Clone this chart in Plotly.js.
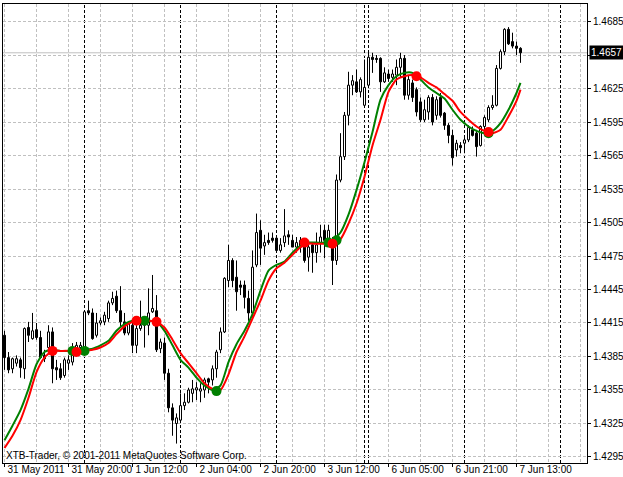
<!DOCTYPE html>
<html><head><meta charset="utf-8">
<script src="https://cdn.plot.ly/plotly-3.0.1.min.js"></script>
<style>html,body{margin:0;padding:0;background:#fff}#chart{width:623px;height:477px}</style>
</head><body><div id="chart"></div>
<script>
// EURUSD-like H1 bars, 31 May 2011 04:00 .. 7 Jun 2011 14:00 (bar index 0..129)
const openP = [1.4404,1.4384,1.4374,1.4379,1.4382,1.4374,1.4411,1.4401,1.4409,1.4402,
1.4386,1.4393,1.4407,1.4375,1.4374,1.4368,1.4379,1.4380,1.4389,1.4393,
1.4388,1.4426,1.4424,1.4404,1.4415,1.4416,1.4419,1.4433,1.4439,1.4426,
1.4416,1.4406,1.4413,1.4395,1.4410,1.4416,1.4413,1.4425,1.4426,1.4392,
1.4397,1.4370,1.4339,1.4325,1.4328,1.4341,1.4344,1.4352,1.4355,1.4354,
1.4355,1.4365,1.4364,1.4374,1.4391,1.4407,1.4453,1.4471,1.4456,1.4449,
1.4449,1.4437,1.4424,1.4467,1.4498,1.4484,1.4489,1.4491,1.4491,1.4480,
1.4487,1.4494,1.4489,1.4483,1.4483,1.4487,1.4474,1.4485,1.4478,1.4487,
1.4498,1.4487,1.4482,1.4471,1.4543,1.4564,1.4601,1.4628,1.4631,1.4622,
1.4610,1.4628,1.4653,1.4652,1.4652,1.4631,1.4638,1.4635,1.4637,1.4644,
1.4652,1.4619,1.4630,1.4624,1.4613,1.4597,1.4604,1.4617,1.4601,1.4617,
1.4603,1.4592,1.4583,1.4570,1.4574,1.4576,1.4579,1.4588,1.4585,1.4574,
1.4591,1.4597,1.4608,1.4610,1.4643,1.4658,1.4678,1.4667,1.4663,1.4661];
const highP = [1.4408,1.4389,1.4384,1.4386,1.4384,1.4411,1.4416,1.4424,1.4415,1.4408,
1.4391,1.4413,1.4411,1.4382,1.4379,1.4384,1.4386,1.4397,1.4398,1.4398,
1.4426,1.4435,1.4428,1.4424,1.4420,1.4425,1.4435,1.4443,1.4444,1.4448,
1.4424,1.4416,1.4417,1.4417,1.4435,1.4420,1.4446,1.4458,1.4440,1.4401,
1.4402,1.4374,1.4343,1.4334,1.4352,1.4352,1.4357,1.4364,1.4362,1.4361,
1.4366,1.4366,1.4377,1.4391,1.4411,1.4456,1.4485,1.4473,1.4471,1.4453,
1.4453,1.4444,1.4480,1.4513,1.4507,1.4494,1.4496,1.4496,1.4492,1.4491,
1.4517,1.4498,1.4494,1.4492,1.4492,1.4489,1.4487,1.4487,1.4496,1.4503,
1.4503,1.4503,1.4492,1.4548,1.4585,1.4604,1.4640,1.4637,1.4642,1.4635,
1.4651,1.4658,1.4657,1.4655,1.4653,1.4644,1.4642,1.4642,1.4651,1.4657,
1.4655,1.4637,1.4633,1.4626,1.4617,1.4615,1.4619,1.4620,1.4618,1.4621,
1.4604,1.4594,1.4588,1.4579,1.4577,1.4582,1.4592,1.4591,1.4588,1.4592,
1.4601,1.4610,1.4619,1.4646,1.4660,1.4679,1.4680,1.4675,1.4667,1.4662];
const lowP = [1.4373,1.4370,1.4370,1.4376,1.4366,1.4365,1.4398,1.4400,1.4400,1.4383,
1.4380,1.4391,1.4361,1.4364,1.4364,1.4366,1.4373,1.4377,1.4388,1.4388,
1.4386,1.4422,1.4400,1.4402,1.4413,1.4413,1.4416,1.4431,1.4424,1.4411,
1.4404,1.4404,1.4388,1.4388,1.4408,1.4393,1.4404,1.4424,1.4389,1.4388,
1.4364,1.4335,1.4314,1.4307,1.4326,1.4337,1.4343,1.4344,1.4346,1.4344,
1.4348,1.4352,1.4359,1.4366,1.4388,1.4406,1.4447,1.4447,1.4426,1.4440,
1.4428,1.4417,1.4420,1.4465,1.4467,1.4476,1.4485,1.4487,1.4478,1.4478,
1.4483,1.4485,1.4483,1.4478,1.4478,1.4469,1.4461,1.4460,1.4469,1.4478,
1.4473,1.4483,1.4449,1.4467,1.4541,1.4561,1.4592,1.4619,1.4621,1.4617,
1.4608,1.4626,1.4639,1.4648,1.4622,1.4630,1.4631,1.4631,1.4628,1.4635,
1.4615,1.4615,1.4613,1.4600,1.4595,1.4595,1.4597,1.4592,1.4597,1.4599,
1.4588,1.4576,1.4556,1.4564,1.4567,1.4567,1.4577,1.4582,1.4564,1.4573,
1.4588,1.4595,1.4606,1.4609,1.4642,1.4655,1.4664,1.4661,1.4655,1.4648];
const closeP = [1.4384,1.4373,1.4383,1.4383,1.4375,1.4410,1.4404,1.4408,1.4402,1.4384,
1.4383,1.4407,1.4374,1.4373,1.4366,1.4382,1.4382,1.4388,1.4395,1.4395,
1.4425,1.4424,1.4401,1.4415,1.4417,1.4422,1.4433,1.4437,1.4426,1.4416,
1.4406,1.4415,1.4395,1.4410,1.4413,1.4413,1.4424,1.4428,1.4391,1.4398,
1.4370,1.4339,1.4328,1.4330,1.4341,1.4344,1.4355,1.4356,1.4357,1.4356,
1.4364,1.4362,1.4374,1.4389,1.4407,1.4455,1.4471,1.4453,1.4443,1.4447,
1.4438,1.4424,1.4465,1.4496,1.4482,1.4487,1.4487,1.4489,1.4480,1.4485,
1.4493,1.4492,1.4483,1.4487,1.4489,1.4471,1.4483,1.4478,1.4485,1.4492,
1.4489,1.4498,1.4471,1.4543,1.4564,1.4601,1.4628,1.4632,1.4622,1.4633,
1.4626,1.4653,1.4651,1.4651,1.4631,1.4639,1.4634,1.4638,1.4644,1.4652,
1.4619,1.4633,1.4617,1.4604,1.4597,1.4606,1.4617,1.4595,1.4615,1.4601,
1.4592,1.4583,1.4563,1.4576,1.4572,1.4579,1.4590,1.4583,1.4573,1.4591,
1.4599,1.4608,1.4610,1.4643,1.4658,1.4678,1.4665,1.4663,1.4661,1.4657];

// indicator lines, read every second bar (+ last bar)
const lineBars = [0,2,4,6,8,10,12,14,16,18,20,22,24,26,28,30,32,34,36,38,40,42,44,46,48,50,52,54,56,58,60,62,64,66,68,70,72,74,76,78,80,82,84,86,88,90,92,94,96,98,100,102,104,106,108,110,112,114,116,118,120,122,124,126,128,129];
const fastLine = [1.4310,1.4323,1.4337,1.4356,1.4378,1.4389,1.4391,1.4390,1.4390,1.4390,
1.4391,1.4392,1.4395,1.4399,1.4408,1.4414,1.4417,1.4417,1.4417,1.4416,
1.4408,1.4395,1.4382,1.4375,1.4366,1.4359,1.4355,1.4359,1.4380,1.4396,
1.4408,1.4423,1.4444,1.4462,1.4467,1.4470,1.4478,1.4484,1.4487,1.4487,
1.4487,1.4489,1.4496,1.4512,1.4534,1.4559,1.4586,1.4615,1.4628,1.4636,
1.4639,1.4639,1.4633,1.4626,1.4621,1.4616,1.4606,1.4597,1.4591,1.4587,
1.4585,1.4587,1.4594,1.4606,1.4621,1.4630];
const slowLine = [1.4303,1.4314,1.4328,1.4348,1.4371,1.4384,1.4390,1.4390,1.4390,1.4389,
1.4390,1.4391,1.4393,1.4397,1.4405,1.4412,1.4416,1.4417,1.4417,1.4416,
1.4411,1.4400,1.4388,1.4379,1.4370,1.4361,1.4356,1.4355,1.4369,1.4389,
1.4403,1.4419,1.4435,1.4453,1.4464,1.4469,1.4476,1.4483,1.4486,1.4486,
1.4486,1.4486,1.4490,1.4504,1.4522,1.4546,1.4574,1.4597,1.4622,1.4633,
1.4636,1.4637,1.4635,1.4630,1.4626,1.4620,1.4614,1.4604,1.4597,1.4591,
1.4587,1.4585,1.4588,1.4600,1.4614,1.4624];

// crossing signals
const redDotBars = [12,18,33,38,75,82,103,121];
const redDotVals = [1.4390,1.4389,1.4417,1.4416,1.4487,1.4486,1.4636,1.4586];
const greenDotBars = [17,20,35,53,81,83,121];
const greenDotVals = [1.4390,1.4390,1.4417,1.4354,1.4487,1.4489,1.4585];

// axis labels
const tickBars = [0,16,32,48,64,80,96,112,128];
const tickLabels = ['31 May 2011','31 May 20:00','1 Jun 12:00','2 Jun 04:00','2 Jun 20:00','3 Jun 12:00','6 Jun 05:00','6 Jun 21:00','7 Jun 13:00'];
const dayStartBars = [20,44,68,90,91,115,139];
const yTicks = [1.4295,1.4325,1.4355,1.4385,1.4415,1.4445,1.4475,1.4505,1.4535,1.4565,1.4595,1.4625,1.4655,1.4685];
const yTickLabels = ['1.4295','1.4325','1.4355','1.4385','1.4415','1.4445','1.4475','1.4505','1.4535','1.4565','1.4595','1.4625','','1.4685'];
const lastPrice = 1.4657;

const FONT = 'Liberation Sans, Arial, sans-serif';
const DASH = '3px,2px';

// build candle bodies (bars) and wicks (segments outside the body) from OHLC
const upX = [], upBase = [], upH = [], dnX = [], dnBase = [], dnH = [];
const wickX = [], wickY = [];
openP.forEach((o, i) => {
  const c = closeP[i], top = Math.max(o, c), bot = Math.min(o, c);
  if (c >= o) { upX.push(i); upBase.push(bot); upH.push(top - bot); }
  else { dnX.push(i); dnBase.push(bot); dnH.push(top - bot); }
  if (highP[i] > top) { wickX.push(i, i, null); wickY.push(highP[i], top, null); }
  if (lowP[i] < bot) { wickX.push(i, i, null); wickY.push(bot, lowP[i], null); }
});

const traces = [
  {type:'bar', x:upX, y:upH, base:upBase, width:0.5, marker:{color:'#fff', line:{color:'#000', width:1}}, hoverinfo:'skip', showlegend:false},
  {type:'bar', x:dnX, y:dnH, base:dnBase, width:0.5, marker:{color:'#000', line:{color:'#000', width:1}}, hoverinfo:'skip', showlegend:false},
  {type:'scatter', mode:'lines', x:wickX, y:wickY, connectgaps:false, line:{color:'#000', width:1}, hoverinfo:'skip', showlegend:false},
  {type:'scatter', mode:'lines', x:lineBars, y:fastLine, line:{color:'#008000', width:2, shape:'spline', smoothing:0.6}, hoverinfo:'skip', showlegend:false},
  {type:'scatter', mode:'lines', x:lineBars, y:slowLine, line:{color:'#ff0000', width:2, shape:'spline', smoothing:0.6}, hoverinfo:'skip', showlegend:false},
  {type:'scatter', mode:'markers', x:greenDotBars, y:greenDotVals, marker:{color:'#008000', size:10, symbol:'circle'}, hoverinfo:'skip', showlegend:false},
  {type:'scatter', mode:'markers', x:redDotBars, y:redDotVals, marker:{color:'#ff0000', size:10, symbol:'circle'}, hoverinfo:'skip', showlegend:false}
];

const shapes = [
  {type:'line', xref:'paper', x0:0, x1:1, yref:'y', y0:lastPrice, y1:lastPrice, line:{color:'#c0c0c0', width:1}, layer:'below'}
].concat(dayStartBars.map(b => ({type:'line', xref:'x', x0:b, x1:b, yref:'paper', y0:0, y1:1, line:{color:'#000', width:1, dash:DASH}, layer:'below'})));

const layout = {
  width:623, height:477,
  margin:{l:3, r:36, t:4, b:14, pad:0},
  paper_bgcolor:'#fff', plot_bgcolor:'#fff',
  showlegend:false, barmode:'overlay',
  font:{family:FONT, size:10, color:'#000'},
  xaxis:{
    range:[-0.375,145.625], tickmode:'array', tickvals:tickBars, ticktext:tickLabels,
    tickangle:0, automargin:false,
    ticks:'outside', ticklen:3, tickcolor:'#000', tickwidth:1,
    ticklabelposition:'outside right', ticklabelstandoff:-3, ticklabelshift:2,
    showgrid:true, gridcolor:'#c0c0c0', griddash:DASH, gridwidth:1,
    minor:{dtick:8, tick0:0, showgrid:true, gridcolor:'#c0c0c0', griddash:DASH, ticks:''},
    showline:true, linecolor:'#000', linewidth:1, mirror:true, zeroline:false,
    tickfont:{family:FONT, size:10, color:'#000'}, fixedrange:true
  },
  yaxis:{
    side:'right', range:[1.42896,1.47007], tickmode:'array', tickvals:yTicks, ticktext:yTickLabels,
    ticks:'outside', ticklen:3, tickcolor:'#000',
    showgrid:true, gridcolor:'#c0c0c0', griddash:DASH, gridwidth:1,
    showline:true, linecolor:'#000', linewidth:1, mirror:true, zeroline:false,
    tickfont:{family:FONT, size:10, color:'#000'}, fixedrange:true
  },
  shapes:shapes,
  annotations:[
    {xref:'paper', yref:'paper', x:0, y:0, xanchor:'left', yanchor:'bottom', xshift:1, yshift:0,
     text:'XTB-Trader, © 2001-2011 MetaQuotes Software Corp.', showarrow:false,
     font:{family:FONT, size:10, color:'#000'}},
    {xref:'paper', yref:'y', x:1, y:lastPrice, xanchor:'left', yanchor:'middle', xshift:2,
     text:lastPrice.toFixed(4), showarrow:false, bgcolor:'#000', borderpad:1,
     font:{family:FONT, size:10, color:'#fff'}}
  ]
};

Plotly.newPlot('chart', traces, layout, {staticPlot:true, displayModeBar:false});
</script>
</body></html>
